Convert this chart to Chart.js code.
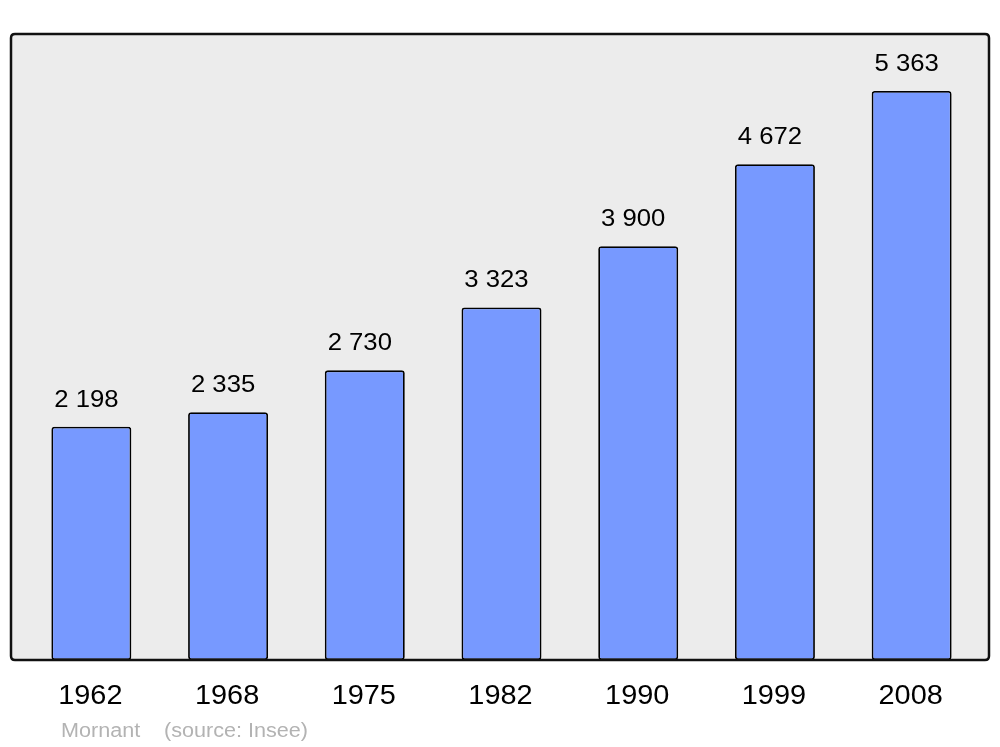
<!DOCTYPE html>
<html><head><meta charset="utf-8">
<script src="https://cdn.jsdelivr.net/npm/chart.js@4/dist/chart.umd.min.js"></script>
<style>html,body{margin:0;padding:0;background:#fff}canvas{display:block}</style>
</head><body>
<canvas id="c" width="1000" height="747"></canvas>
<script>
const years = ['1962','1968','1975','1982','1990','1999','2008'];
const population = [2198, 2335, 2730, 3323, 3900, 4672, 5363];
const valueLabels = ['2 198','2 335','2 730','3 323','3 900','4 672','5 363'];
const placeName = 'Mornant';
const sourceText = '(source: Insee)';

function rrect(ctx, x, y, w, h, r) {
  ctx.beginPath();
  ctx.moveTo(x + r, y);
  ctx.lineTo(x + w - r, y);
  ctx.quadraticCurveTo(x + w, y, x + w, y + r);
  ctx.lineTo(x + w, y + h - r);
  ctx.quadraticCurveTo(x + w, y + h, x + w - r, y + h);
  ctx.lineTo(x + r, y + h);
  ctx.quadraticCurveTo(x, y + h, x, y + h - r);
  ctx.lineTo(x, y + r);
  ctx.quadraticCurveTo(x, y, x + r, y);
  ctx.closePath();
}
function stretchedText(ctx, txt, x, y, size, color, align, sx) {
  ctx.save();
  ctx.font = size + 'px "Liberation Sans", Arial, sans-serif';
  ctx.fillStyle = color;
  ctx.textBaseline = 'alphabetic';
  ctx.translate(x, y);
  ctx.scale(sx, 1);
  ctx.textAlign = align;
  ctx.fillText(txt, 0, 0);
  ctx.restore();
}

const framePlugin = {
  id: 'frame',
  beforeDatasetsDraw(chart) {
    const ctx = chart.ctx;
    ctx.save();
    rrect(ctx, 11, 34, 978, 626, 4);
    ctx.fillStyle = '#ececec';
    ctx.fill();
    ctx.restore();
  },
  afterDatasetsDraw(chart) {
    const ctx = chart.ctx;
    ctx.save();
    rrect(ctx, 11, 34, 978, 626, 4);
    ctx.lineWidth = 2.5;
    ctx.strokeStyle = '#111';
    ctx.stroke();
    ctx.restore();
    const meta = chart.getDatasetMeta(0);
    const xs = chart.scales.x;
    meta.data.forEach((bar, i) => {
      stretchedText(ctx, valueLabels[i], bar.x - 5, bar.y - 20, 24, '#000', 'center', 1.07);
      stretchedText(ctx, years[i], xs.getPixelForValue(i) - 1, 704, 27, '#000', 'center', 1.07);
    });
    stretchedText(ctx, placeName, 61, 737, 20, '#b3b3b3', 'left', 1.08);
    stretchedText(ctx, sourceText, 164, 737, 20, '#b3b3b3', 'left', 1.08);
  }
};

new Chart(document.getElementById('c'), {
  type: 'bar',
  data: {
    labels: years,
    datasets: [{
      data: population,
      backgroundColor: '#7799ff',
      borderColor: '#000',
      borderWidth: 1.8,
      borderRadius: 3,
      borderSkipped: false,
      barPercentage: 0.585,
      categoryPercentage: 1
    }]
  },
  options: {
    responsive: false,
    devicePixelRatio: 1,
    animation: false,
    layout: { padding: { left: 23, right: 20, top: 34, bottom: 87 } },
    plugins: { legend: { display: false }, tooltip: { enabled: false } },
    scales: {
      x: { display: false, offset: true, grid: { display: false } },
      y: { display: false, min: 0, max: 5900, grid: { display: false } }
    }
  },
  plugins: [framePlugin]
});
</script>
</body></html>
